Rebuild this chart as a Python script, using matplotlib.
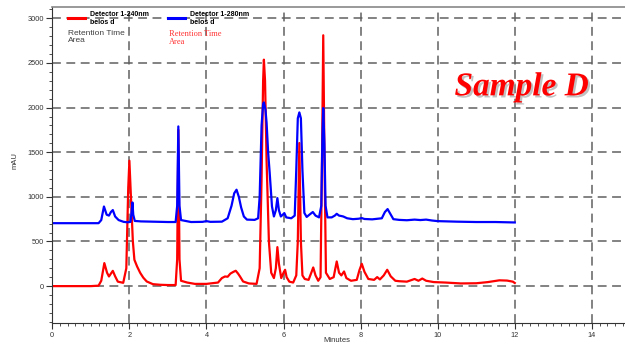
import matplotlib
matplotlib.use('Agg')
import matplotlib.pyplot as plt
import matplotlib.patheffects as pe
from matplotlib.ticker import MultipleLocator

# retention time (min) and signal (mAU)
t_240 = [0.0, 1.0, 1.2, 1.27, 1.35, 1.42, 1.47, 1.52, 1.57, 1.63, 1.70, 1.84, 1.92, 1.97, 2.00,
         2.04, 2.09, 2.13, 2.20, 2.28, 2.36, 2.45, 2.61, 2.8, 3.0, 3.2, 3.24, 3.27, 3.30, 3.34,
         3.5, 3.7, 4.0, 4.3, 4.40, 4.48, 4.55, 4.62, 4.70, 4.76, 4.82, 4.87, 4.95, 5.1, 5.3,
         5.38, 5.43, 5.47, 5.49, 5.52, 5.56, 5.62, 5.68, 5.75, 5.80, 5.84, 5.88, 5.94, 6.00,
         6.04, 6.08, 6.15, 6.25, 6.33, 6.37, 6.41, 6.45, 6.49, 6.55, 6.65, 6.72, 6.77, 6.83,
         6.90, 6.96, 7.00, 7.03, 7.06, 7.10, 7.2, 7.3, 7.38, 7.44, 7.50, 7.57, 7.63, 7.75,
         7.90, 7.97, 8.03, 8.10, 8.2, 8.35, 8.43, 8.5, 8.6, 8.69, 8.78, 8.9, 9.0, 9.2, 9.3,
         9.4, 9.5, 9.6, 9.7, 9.9, 10.2, 10.6, 11.0, 11.3, 11.6, 11.8, 11.95, 12.0]
mau_240 = [0, 0, 5, 60, 258, 150, 108, 140, 171, 110, 50, 37, 200, 1100, 1405,
           1000, 500, 295, 220, 149, 95, 52, 22, 15, 12, 12, 300, 1750, 300, 60,
           40, 25, 25, 40, 90, 108, 105, 140, 160, 172, 140, 108, 52, 30, 25,
           200, 1200, 2300, 2537, 2300, 1400, 500, 150, 90, 200, 437, 250, 90, 150,
           183, 100, 50, 40, 120, 500, 1603, 500, 120, 80, 70, 150, 209, 120,
           60, 100, 1500, 2810, 1500, 150, 80, 100, 276, 150, 120, 164, 90, 60,
           70, 180, 250, 160, 80, 70, 101, 75, 120, 183, 110, 60, 55, 50, 65,
           80, 60, 85, 60, 45, 40, 30, 32, 45, 65, 62, 50, 35]

t_280 = [0.0, 1.2, 1.27, 1.34, 1.41, 1.47, 1.52, 1.57, 1.63, 1.72, 1.85, 1.95, 2.03, 2.06, 2.08,
         2.10, 2.14, 2.3, 2.6, 3.0, 3.2, 3.24, 3.27, 3.30, 3.34, 3.6, 3.9, 4.0, 4.1, 4.4,
         4.55, 4.65, 4.72, 4.78, 4.84, 4.90, 4.97, 5.05, 5.25, 5.34, 5.38, 5.43, 5.47, 5.49,
         5.53, 5.56, 5.60, 5.64, 5.70, 5.75, 5.80, 5.84, 5.88, 5.93, 5.98, 6.02, 6.07, 6.2,
         6.29, 6.33, 6.37, 6.41, 6.45, 6.49, 6.54, 6.6, 6.7, 6.76, 6.83, 6.92, 6.98, 7.01,
         7.03, 7.06, 7.09, 7.14, 7.25, 7.33, 7.38, 7.44, 7.50, 7.55, 7.65, 7.8, 7.95, 8.03,
         8.1, 8.3, 8.55, 8.63, 8.70, 8.77, 8.85, 9.0, 9.2, 9.4, 9.55, 9.7, 9.85, 10.0, 10.5,
         11.0, 11.5, 12.0]
mau_280 = [705, 705, 740, 892, 800, 790, 830, 852, 780, 740, 720, 715, 720, 850, 937,
           800, 730, 725, 722, 718, 718, 900, 1789, 900, 740, 718, 720, 728, 720, 722,
           760, 900, 1040, 1080, 1000, 880, 780, 745, 742, 760, 1000, 1800, 2040, 2058,
           1980, 1830, 1500, 1270, 892, 780, 850, 986, 850, 780, 800, 818, 770, 760,
           790, 1300, 1880, 1946, 1880, 1300, 820, 775, 810, 830, 790, 770, 900, 1700,
           1995, 1600, 900, 770, 770, 790, 810, 790, 785, 780, 760, 750, 755, 762,
           752, 748, 760, 830, 863, 810, 750, 742, 738, 745, 740, 745, 735, 728, 722,
           718, 718, 713]

plt.rc('font', family='Liberation Sans', size=5.3)

fig = plt.figure(figsize=[6.25, 3.46], dpi=100)
ax = fig.add_axes([0.0837, 0.0673, 0.9163, 0.912])

ax.plot(t_240, mau_240, color='#ff0000', linewidth=1.6, solid_joinstyle='round')
ax.plot(t_280, mau_280, color='#0000ff', linewidth=1.6, solid_joinstyle='round')

ax.set_xlim(0, 14.86)
ax.set_ylim(-410, 3125)
ax.xaxis.set_major_locator(MultipleLocator(2))
ax.xaxis.set_minor_locator(MultipleLocator(0.2))
ax.yaxis.set_major_locator(MultipleLocator(500))
ax.yaxis.set_minor_locator(MultipleLocator(100))
ax.tick_params(which='major', length=4.5, width=0.8, pad=1.5, colors='#333333')
ax.tick_params(which='minor', length=2, width=0.6, colors='#333333')
ax.tick_params(axis='x', which='major', pad=2.5)

ax.grid(which='major', color='#606060', linestyle=(0, (5.8, 3.6)), linewidth=1.1)
ax.set_axisbelow(True)

ax.spines['right'].set_visible(False)
ax.spines['top'].set_color('#888888')
ax.spines['top'].set_linewidth(1.2)
ax.spines['left'].set_color('#333333')
ax.spines['bottom'].set_color('#333333')

fig.text(0.024, 0.535, 'mAU', rotation=90, ha='center', va='center', fontsize=5.5, color='#333333')
fig.text(0.539, 0.017, 'Minutes', ha='center', va='center', fontsize=5.5, color='#333333')

# legend block drawn like the chromatography software
ax.plot([0.42, 0.86], [3000, 3000], color='#ff0000', linewidth=2.2, clip_on=False)
ax.plot([3.0, 3.44], [3000, 3000], color='#0000ff', linewidth=2.2, clip_on=False)
fig.text(0.144, 0.968, 'Detector 1-240nm\nbelos d', fontsize=5, fontweight='bold',
         va='top', ha='left', linespacing=1.1)
fig.text(0.304, 0.968, 'Detector 1-280nm\nbelos d', fontsize=5, fontweight='bold',
         va='top', ha='left', linespacing=1.1)
fig.text(0.109, 0.914, 'Retention Time\nArea', fontsize=6, color='#404040',
         va='top', ha='left', linespacing=1.1)
fig.text(0.270, 0.914, 'Retention Time\nArea', fontsize=6, color='#ff3333',
         family='Liberation Serif', va='top', ha='left', linespacing=1.0)

fig.text(0.835, 0.749, 'Sample D', fontsize=24, color='#ff0000', family='Liberation Serif',
         fontweight='bold', fontstyle='italic', ha='center', va='center',
         path_effects=[pe.SimplePatchShadow(offset=(1.5, -1.5), shadow_rgbFace='#999999', alpha=0.6),
                       pe.Normal()])

plt.savefig('out.png', dpi=100)
